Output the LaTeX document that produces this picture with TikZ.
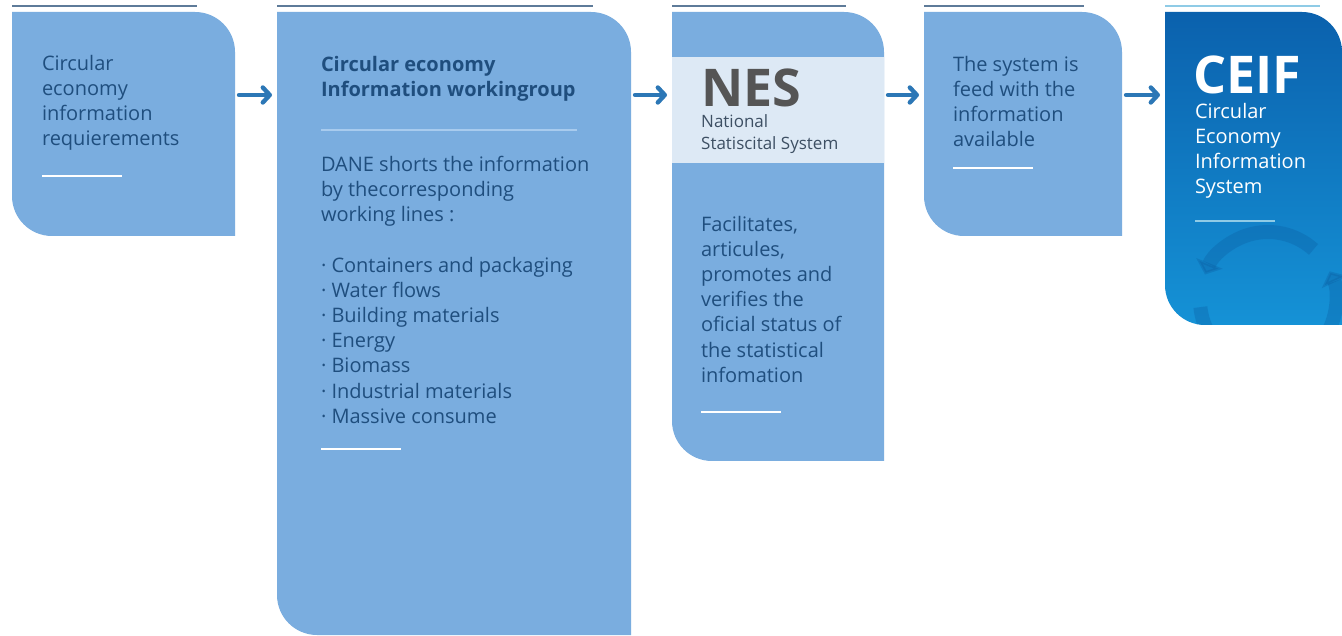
\documentclass[tikz,border=0pt]{standalone}
\usepackage{fontspec}
\setmainfont{Open Sans}
\usetikzlibrary{arrows.meta,calc}
\definecolor{boxfill}{HTML}{7AADDF}
\definecolor{band}{HTML}{DDE9F5}
\definecolor{txt}{HTML}{1F4E7E}
\definecolor{arrowc}{HTML}{2C77B6}
\definecolor{topline}{HTML}{5E7B99}
\definecolor{ceiftop}{HTML}{0B61AD}
\definecolor{ceifbot}{HTML}{1592D6}
\definecolor{sepline}{HTML}{A8CBEE}
\definecolor{nesgray}{HTML}{555555}
\definecolor{nessub}{HTML}{3D4F63}
\definecolor{ceifline}{HTML}{8FCBE6}
\definecolor{ceifarc}{HTML}{0A5A9E}
\newcommand\myroundbox[3]{%
  \path[#2] (#1.north west) -- ([xshift=-#3]#1.north east) arc[start angle=90,end angle=0,radius=#3]
    -- (#1.south east) -- ([xshift=#3]#1.south west) arc[start angle=270,end angle=180,radius=#3] -- cycle;}
\begin{document}
\begin{tikzpicture}[x=1pt,y=1pt,
  frame/.style={rectangle, inner sep=0pt, outer sep=0pt, anchor=north west},
  body/.style={anchor=north west, inner sep=0pt, outer sep=0pt, align=left, text=txt, font=\fontsize{20}{25.2}\selectfont},
  flow/.style={draw=arrowc, line width=4.4pt, line cap=round, line join=round, -{Straight Barb[length=7pt,width=15pt,round]}},
  uline/.style={draw=white, line width=2.8pt},
  tline/.style={draw=topline, line width=1.3pt},
  faint/.style={draw=ceifarc, opacity=0.3, line width=14pt}]
\useasboundingbox (0,0) rectangle (1342,635);
\fill[white] (0,0) rectangle (1342,635);

% box frames
\node[frame, minimum width=223pt, minimum height=224pt] (b1) at (12,623) {};
\node[frame, minimum width=354pt, minimum height=623pt] (b2) at (277,623) {};
\node[frame, minimum width=212pt, minimum height=449pt] (b3) at (672,623) {};
\node[frame, minimum width=198pt, minimum height=224pt] (b4) at (924,623) {};
\node[frame, minimum width=177pt, minimum height=313pt] (b5) at (1165,623) {};

\myroundbox{b1}{fill=boxfill}{40pt}
\myroundbox{b2}{fill=boxfill}{40pt}
\myroundbox{b3}{fill=boxfill}{40pt}
\myroundbox{b4}{fill=boxfill}{40pt}
\myroundbox{b5}{top color=ceiftop, bottom color=ceifbot}{40pt}

% NES band
\fill[band] ([yshift=-45pt]b3.north west) rectangle ([yshift=-151pt]b3.north east);

% faint circular arrows in CEIF
\begin{scope}
  \myroundbox{b5}{clip}{40pt}
  \coordinate (cc) at (1268,335);
  \draw[faint, -{Triangle[length=12pt,width=28pt]}] ($(cc)+(48:68)$) arc[start angle=48, end angle=158, radius=68];
  \draw[faint, -{Triangle[length=12pt,width=28pt]}] ($(cc)+(186:68)$) arc[start angle=186, end angle=385, radius=68];
\end{scope}

% top lines
\draw[tline] ([yshift=6pt]b1.north west) -- ([xshift=-38pt,yshift=6pt]b1.north east);
\draw[tline] ([yshift=6pt]b2.north west) -- ([xshift=-38pt,yshift=6pt]b2.north east);
\draw[tline] ([yshift=6pt]b3.north west) -- ([xshift=-38pt,yshift=6pt]b3.north east);
\draw[tline] ([yshift=6pt]b4.north west) -- ([xshift=-38pt,yshift=6pt]b4.north east);
\draw[draw=ceifline, line width=1.3pt] ([yshift=6pt]b5.north west) -- ([xshift=-22pt,yshift=6pt]b5.north east);

% texts
\node[body] (t1) at (42,580) {Circular\\economy\\information\\requierements};
\draw[uline] (42,459) -- (122,459);

\node[body, font=\bfseries\fontsize{20}{25.2}\selectfont] (t2) at (321,579) {Circular economy\\Information workingroup};
\draw[draw=sepline, line width=1.8pt] (321,505) -- (577,505);
\node[body] (t2b) at (321,479) {DANE shorts the information\\by thecorresponding\\working lines :};
\node[body] (t2c) at (321,378) {· Containers and packaging\\· Water flows\\· Building materials\\· Energy\\· Biomass\\· Industrial materials\\· Massive consume};
\draw[uline] (321,186) -- (401,186);

\node[anchor=north west, inner sep=0pt, text depth=0pt, text=nesgray, font=\bfseries\fontsize{52}{52}\selectfont] (nes) at (701,566) {NES};
\node[anchor=north west, inner sep=0pt, align=left, text=nessub, font=\fontsize{17}{22}\selectfont] (nessub) at (701,521) {National\\Statiscital System};
\node[body] (t3) at (701,419) {Facilitates,\\articules,\\promotes and\\verifies the\\oficial status of\\the statistical\\infomation};
\draw[uline] (701,223) -- (781,223);

\node[body] (t4) at (953,579) {The system is\\feed with the\\information\\available};
\draw[uline] (953,467) -- (1033,467);

\node[anchor=north west, inner sep=0pt, text depth=0pt, text=white, font=\bfseries\fontsize{52}{52}\selectfont] (ceif) at (1193,579) {CEIF};
\node[body, text=white] (t5) at (1195,532) {Circular\\Economy\\Information\\System};
\draw[draw=ceifline, line width=2.8pt] (1195,414) -- (1275,414);

% arrows
\draw[flow] ([xshift=4pt,yshift=-83pt]b1.north east) -- ([xshift=-5pt,yshift=-83pt]b2.north west);
\draw[flow] ([xshift=4pt,yshift=-83pt]b2.north east) -- ([xshift=-5pt,yshift=-83pt]b3.north west);
\draw[flow] ([xshift=4pt,yshift=-83pt]b3.north east) -- ([xshift=-5pt,yshift=-83pt]b4.north west);
\draw[flow] ([xshift=4pt,yshift=-83pt]b4.north east) -- ([xshift=-5pt,yshift=-83pt]b5.north west);
\end{tikzpicture}
\end{document}
